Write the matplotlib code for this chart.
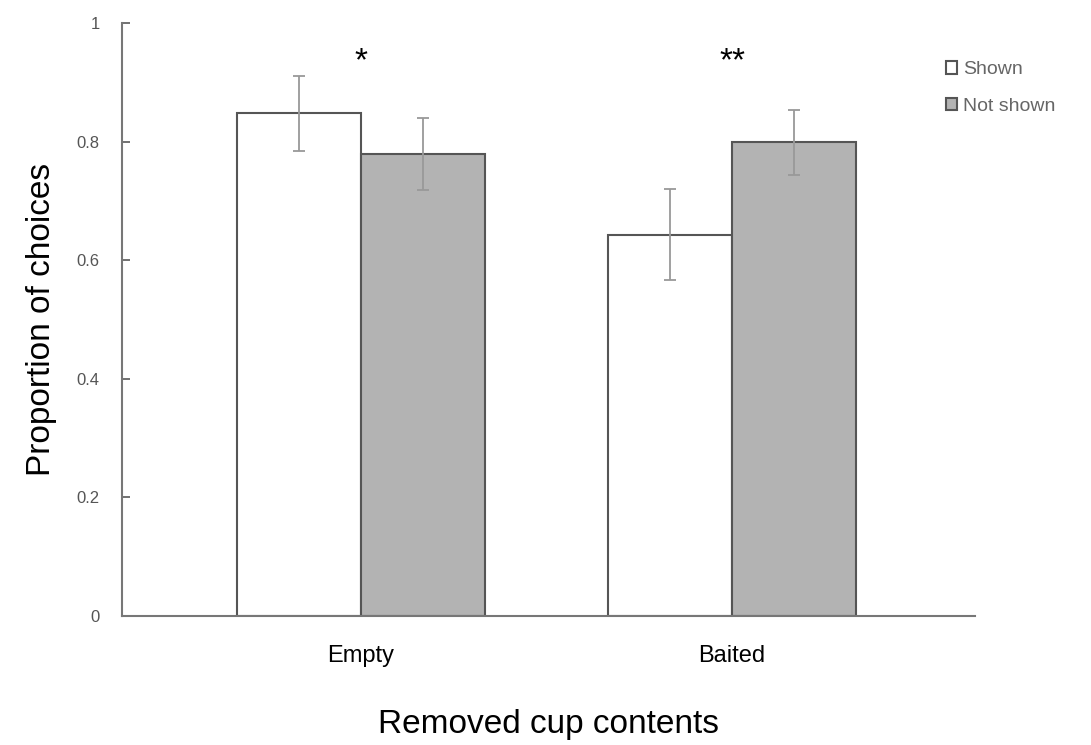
import matplotlib.pyplot as plt
import numpy as np

plt.rcParams['font.family'] = ['Liberation Sans', 'DejaVu Sans']

categories = ["Empty", "Baited"]
shown = [0.848, 0.643]
not_shown = [0.779, 0.799]
shown_err = [0.063, 0.077]
not_shown_err = [0.061, 0.055]
stars = ["*", "**"]
y_ticks = [0, 0.2, 0.4, 0.6, 0.8, 1]
y_tick_labels = ["0", "0.2", "0.4", "0.6", "0.8", "1"]

fig = plt.figure(figsize=(10.91, 7.45), dpi=100)
ax = fig.add_axes([0.1118, 0.1732, 0.7819, 0.7959])

x = np.arange(len(categories))
w = 0.335
edge = "#555555"
err_kw = dict(ecolor="#999999", elinewidth=1.3, capsize=4, capthick=1.3)

ax.bar(x - w / 2, shown, w, yerr=shown_err, color="white", edgecolor=edge,
       linewidth=1.5, error_kw=err_kw, label="Shown")
ax.bar(x + w / 2, not_shown, w, yerr=not_shown_err, color="#b3b3b3", edgecolor=edge,
       linewidth=1.5, error_kw=err_kw, label="Not shown")

for xi, s in zip(x, stars):
    ax.text(xi, 0.935, s, ha="center", va="center", fontsize=24)

ax.set_xlim(-0.644, 1.655)
ax.set_ylim(0, 1)
ax.set_xticks(x)
ax.set_xticklabels(categories, fontsize=17)
ax.set_yticks(y_ticks)
ax.set_yticklabels(y_tick_labels, fontsize=12, color="#555555")
ax.tick_params(axis="x", length=0, pad=21)
ax.tick_params(axis="y", direction="in", length=6, width=1.3, color="#666666", pad=16)

for side in ["top", "right"]:
    ax.spines[side].set_visible(False)
for side in ["left", "bottom"]:
    ax.spines[side].set_color("#777777")
    ax.spines[side].set_linewidth(1.5)

ax.set_ylabel("Proportion of choices", fontsize=24, labelpad=14)
ax.set_xlabel("Removed cup contents", fontsize=24, labelpad=30)

leg = ax.legend(loc="upper left", bbox_to_anchor=(0.945, 0.965), frameon=False,
                fontsize=14, handlelength=0.6, handleheight=0.6, handletextpad=0.3,
                labelspacing=1.0, labelcolor="#666666")

fig.savefig("out.png", dpi=100)
